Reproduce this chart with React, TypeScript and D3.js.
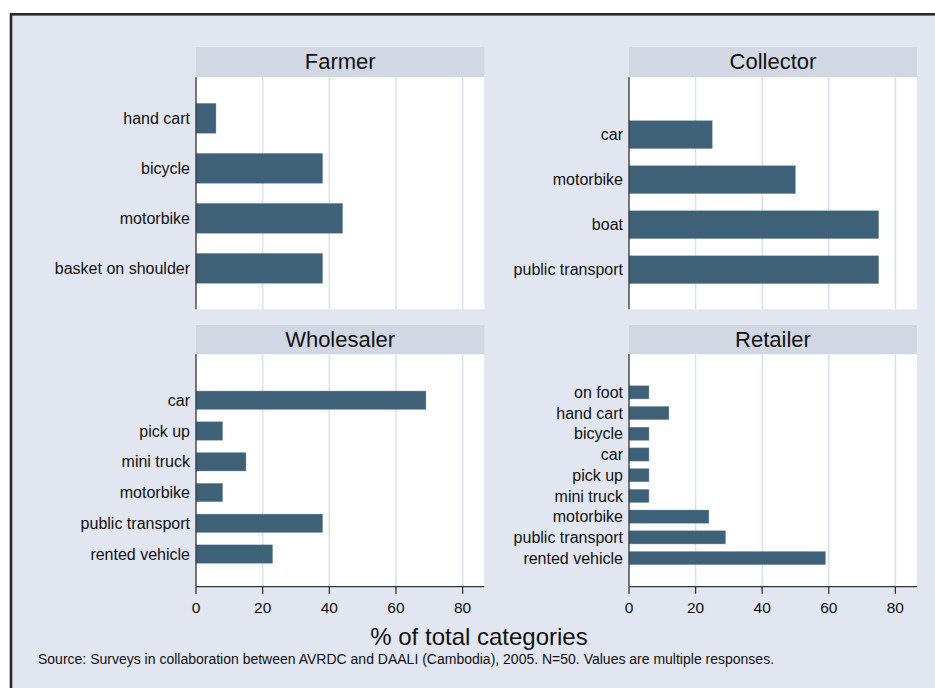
import React from "react";
import * as d3 from "d3";

const farmerCats = ["hand cart", "bicycle", "motorbike", "basket on shoulder"];
const farmerVals = [6, 38, 44, 38];
const collectorCats = ["car", "motorbike", "boat", "public transport"];
const collectorVals = [25, 50, 75, 75];
const wholesalerCats = ["car", "pick up", "mini truck", "motorbike", "public transport", "rented vehicle"];
const wholesalerVals = [69, 8, 15, 8, 38, 23];
const retailerCats = ["on foot", "hand cart", "bicycle", "car", "pick up", "mini truck", "motorbike", "public transport", "rented vehicle"];
const retailerVals = [6, 12, 6, 6, 6, 6, 24, 29, 59];
const xTicks = [0, 20, 40, 60, 80];
const xTitle = "% of total categories";
const note = "Source: Surveys in collaboration between AVRDC and DAALI (Cambodia), 2005. N=50. Values are multiple responses.";

const W = 935;
const H = 688;
const BG = "#e1e6f0";
const HEADER = "#d1d8e4";
const BAR = "#3e6178";
const GRID = "#dae0ec";
const FONT = "'Liberation Sans', Arial, sans-serif";

type Panel = {
  title: string;
  cats: string[];
  vals: number[];
  x0: number;
  x1: number;
  headerTop: number;
  plotTop: number;
  plotBottom: number;
  topPad: number;
  botPad: number;
  pInner: number;
  xAxis: boolean;
};

const panels: Panel[] = [
  { title: "Farmer", cats: farmerCats, vals: farmerVals, x0: 196, x1: 484.3, headerTop: 47.3, plotTop: 77.3, plotBottom: 309.3, topPad: 26, botPad: 26, pInner: 0.4, xAxis: false },
  { title: "Collector", cats: collectorCats, vals: collectorVals, x0: 629, x1: 917, headerTop: 47.3, plotTop: 77.3, plotBottom: 309.3, topPad: 43.4, botPad: 25.6, pInner: 0.38, xAxis: false },
  { title: "Wholesaler", cats: wholesalerCats, vals: wholesalerVals, x0: 196, x1: 484.3, headerTop: 325, plotTop: 354.3, plotBottom: 586.7, topPad: 36.7, botPad: 23.4, pInner: 0.4, xAxis: true },
  { title: "Retailer", cats: retailerCats, vals: retailerVals, x0: 629, x1: 917, headerTop: 325, plotTop: 354.3, plotBottom: 586.7, topPad: 31.4, botPad: 22, pInner: 0.36, xAxis: true },
];

function PanelView({ p }: { p: Panel }) {
  const x = d3.scaleLinear().domain([0, 86.5]).range([p.x0, p.x1]);
  const y = d3
    .scaleBand<string>()
    .domain(p.cats)
    .range([p.plotTop + p.topPad, p.plotBottom - p.botPad])
    .paddingInner(p.pInner)
    .paddingOuter(0);
  const data = p.cats.map((c, i) => ({ c, v: p.vals[i] }));
  return (
    <g>
      <rect x={p.x0} y={p.headerTop} width={p.x1 - p.x0} height={p.plotTop - p.headerTop} fill={HEADER} />
      <text x={(p.x0 + p.x1) / 2} y={p.headerTop + 22} textAnchor="middle" fontSize={22} fontFamily={FONT} fill="#111">
        {p.title}
      </text>
      <rect x={p.x0} y={p.plotTop} width={p.x1 - p.x0} height={p.plotBottom - p.plotTop} fill="#ffffff" />
      {xTicks.filter((t) => t > 0).map((t) => (
        <line key={t} x1={x(t)} x2={x(t)} y1={p.plotTop} y2={p.plotBottom} stroke={GRID} strokeWidth={1.5} />
      ))}
      {data.map((d) => (
        <rect
          key={d.c}
          x={x(0)}
          y={y(d.c)}
          width={x(d.v) - x(0)}
          height={y.bandwidth()}
          fill={BAR}
          stroke="#8aa0b0"
          strokeWidth={0.4}
        />
      ))}
      {data.map((d) => (
        <text
          key={"l" + d.c}
          x={p.x0 - 6}
          y={(y(d.c) as number) + y.bandwidth() / 2}
          dy="0.35em"
          textAnchor="end"
          fontSize={16}
          fontFamily={FONT}
          fill="#111"
        >
          {d.c}
        </text>
      ))}
      <line x1={p.x0} x2={p.x0} y1={p.plotTop} y2={p.plotBottom} stroke="#333" strokeWidth={1.3} />
      {p.xAxis && (
        <g>
          <line x1={p.x0} x2={p.x1} y1={p.plotBottom} y2={p.plotBottom} stroke="#333" strokeWidth={1.3} />
          {xTicks.map((t) => (
            <g key={t}>
              <line x1={x(t)} x2={x(t)} y1={p.plotBottom} y2={p.plotBottom + 7} stroke="#333" strokeWidth={1.3} />
              <text x={x(t)} y={p.plotBottom + 26} textAnchor="middle" fontSize={15.5} fontFamily={FONT} fill="#111">
                {t}
              </text>
            </g>
          ))}
        </g>
      )}
    </g>
  );
}

export default function App() {
  return (
    <svg width={W} height={H} style={{ position: "absolute", left: 0, top: 0, display: "block" }}>
      <rect x={0} y={0} width={W} height={H} fill="#ffffff" />
      <rect x={11} y={14.3} width={W + 20} height={H + 20} fill={BG} stroke="#2b2b2b" strokeWidth={2.6} />
      {panels.map((p) => (
        <PanelView key={p.title} p={p} />
      ))}
      <text x={479} y={645} textAnchor="middle" fontSize={24} fontFamily={FONT} fill="#111">
        {xTitle}
      </text>
      <text x={38} y={664} fontSize={14} fontFamily={FONT} fill="#111">
        {note}
      </text>
    </svg>
  );
}
